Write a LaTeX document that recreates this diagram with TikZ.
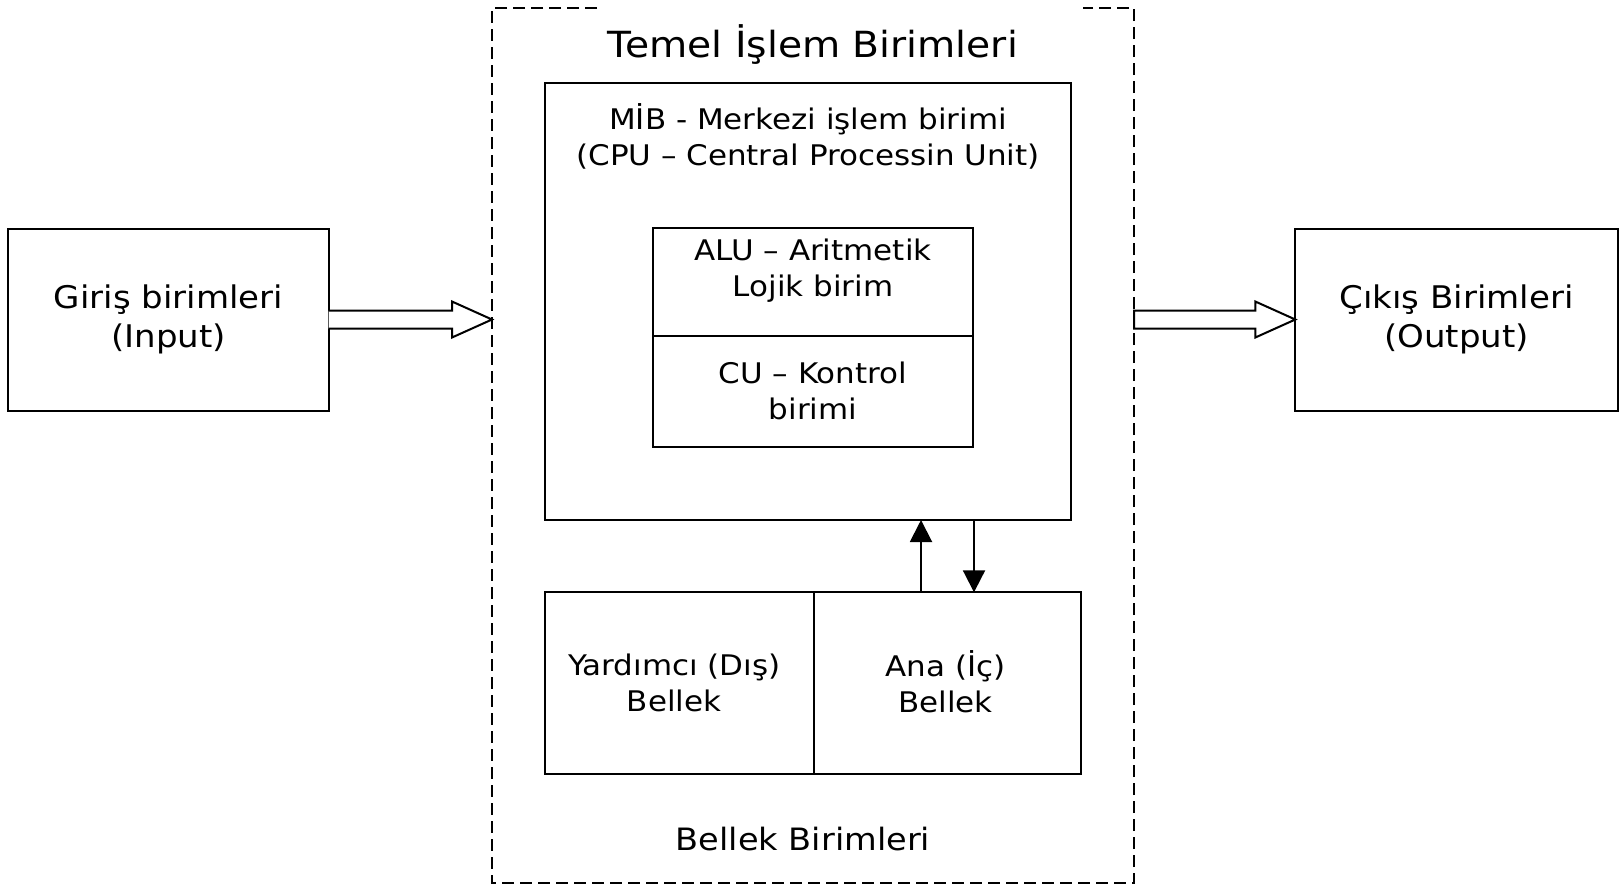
\documentclass[tikz,border=0pt]{standalone}
\usepackage{fontspec}
\setmainfont{DejaVu Sans}[FakeStretch=1.09]
\usetikzlibrary{arrows.meta,calc}
\begin{document}
\begin{tikzpicture}[x=0.5pt,y=-0.5pt,
  box/.style={draw,line width=1pt,inner sep=0pt,outer sep=0pt},
  txt/.style={align=center,font=\fontsize{14.2pt}{18pt}\selectfont,inner sep=0pt},
  bigtxt/.style={align=center,font=\fontsize{15.6pt}{19.5pt}\selectfont,inner sep=0pt},
  dash box/.style={line width=1pt,dash pattern=on 6pt off 3pt},
  fat/.style={draw,line width=1pt,line join=miter,fill=white},
  tip/.style={-{Triangle[length=11pt,width=11pt]},line width=1pt}]
\useasboundingbox (0,0) rectangle (1621,885);
% outer dashed frame
\node[inner sep=0pt,outer sep=0pt,minimum width=321pt,minimum height=437.5pt] (tb) at (813,445.5) {};
\draw[dash box] (tb.north -| 597,0) -- (tb.north west) -- (tb.south west) -- (tb.south east) -- (tb.north east) -- (tb.north -| 1083,0);
\node[font=\fontsize{18pt}{20pt}\selectfont,inner sep=0pt] (title) at (813,44.5) {Temel İşlem Birimleri};
% input / output
\node[box,minimum width=160.2pt,minimum height=91pt] (in) at (168.5,319.5) {};
\node[bigtxt] (intxt) at (in.center) {Giriş birimleri\\(Input)};
\node[box,minimum width=161.3pt,minimum height=91pt] (out) at (1456.6,319.5) {};
\node[bigtxt] (outtxt) at (out.center) {Çıkış Birimleri\\(Output)};
% CPU
\node[box,minimum width=263pt,minimum height=218.7pt] (cpu) at (808,301.3) {};
\node[txt] (cputxt) at (808,136) {MİB - Merkezi işlem birimi\\(CPU – Central Processin Unit)};
\node[box,minimum width=159.7pt,minimum height=53.75pt] (alu) at (813,282.2) {};
\node[txt] (alutxt) at (813,271) {ALU – Aritmetik\\Lojik birim};
\node[box,minimum width=159.7pt,minimum height=55.3pt] (cu) at (813,391.3) {};
\node[txt] (cutxt) at (cu.center) {CU – Kontrol\\birimi};
% memory
\node[box,minimum width=134.4pt,minimum height=91pt] (yard) at (679.2,683.3) {};
\node[txt] (yardtxt) at ($(yard.center)+(-5,0)$) {Yardımcı (Dış)\\Bellek};
\node[box,minimum width=133.9pt,minimum height=91pt] (ana) at (947.5,683.3) {};
\node[txt] (anatxt) at ($(ana.center)+(-2,-2)$) {Ana (İç)\\Bellek};
\node[font=\fontsize{15.4pt}{18pt}\selectfont,inner sep=0pt] (bell) at (803,839) {Bellek Birimleri};
% thin arrows
\draw[tip] (ana.north -| 921,0) -- (cpu.south -| 921,0);
\draw[tip] (cpu.south -| 974,0) -- (ana.north -| 974,0);
% fat arrows
\coordinate (ltip) at (tb.west |- in.east);
\draw[fat] ($(in.east)+(0,-9)$) -- ($(ltip)+(-40,-9)$) -- ($(ltip)+(-40,-18)$) -- (ltip)
  -- ($(ltip)+(-40,18)$) -- ($(ltip)+(-40,9)$) -- ($(in.east)+(0,9)$);
\coordinate (rtip) at (out.west);
\coordinate (rstart) at (tb.east |- out.west);
\draw[fat] ($(rstart)+(0,-9)$) -- ($(rtip)+(-40,-9)$) -- ($(rtip)+(-40,-18)$) -- (rtip)
  -- ($(rtip)+(-40,18)$) -- ($(rtip)+(-40,9)$) -- ($(rstart)+(0,9)$) -- cycle;
\end{tikzpicture}
\end{document}
